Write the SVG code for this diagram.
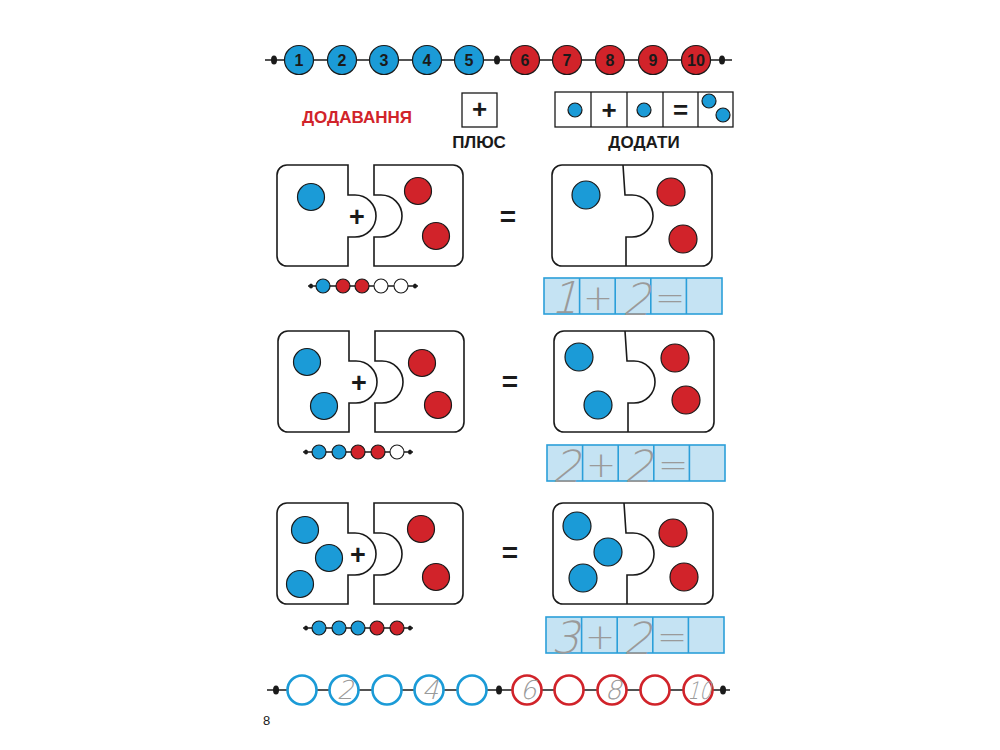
<svg xmlns="http://www.w3.org/2000/svg" xmlns:xlink="http://www.w3.org/1999/xlink" width="1000" height="750" viewBox="0 0 1000 750">
<style>
.ln{stroke:#1a1a1a;stroke-width:1.3;fill:none}
.dot{fill:#1a1a1a}
.nb{fill:#1b9bd7;stroke:#1a1a1a;stroke-width:1.2}
.nr{fill:#d1232a;stroke:#1a1a1a;stroke-width:1.2}
.num{font-family:"Liberation Sans",Arial,sans-serif;font-weight:bold;font-size:16px;fill:#1a1a1a;text-anchor:middle}
.ob{fill:#fff;stroke:#1b9bd7;stroke-width:2.6}
.or{fill:#fff;stroke:#d1232a;stroke-width:2.6}
.hw{font-family:"DejaVu Sans","Liberation Sans",sans-serif;font-weight:200;fill:#9a9a9a;text-anchor:middle}
.hp{font-family:"DejaVu Sans","Liberation Sans",sans-serif;font-weight:200;fill:#9a9a9a;text-anchor:middle}
.ttl{font-family:"Liberation Sans",Arial,sans-serif;font-weight:bold;font-size:17px;text-anchor:middle}
.piece{fill:#fff;stroke:#1a1a1a;stroke-width:1.6}
.bc{fill:#1b9bd7;stroke:#1a1a1a;stroke-width:1.2}
.rc{fill:#d1232a;stroke:#1a1a1a;stroke-width:1.2}
.wc{fill:#fff;stroke:#1a1a1a;stroke-width:1.1}
.box{fill:#fff;stroke:#1a1a1a;stroke-width:1.3}
.wb{fill:#c5e3f3;stroke:#2b9fd9;stroke-width:1.6}
.sym{font-family:"Liberation Sans",Arial,sans-serif;font-weight:bold;fill:#1a1a1a;text-anchor:middle}
</style>
<defs>
<path id="leftPiece" class="piece" d="M10,0 H71 V30 H78 A21,21 0 0 1 78,72 H71 V101 H10 A10,10 0 0 1 0,91 V10 A10,10 0 0 1 10,0 Z"/>
<path id="rightPiece" class="piece" d="M97,0 V30 H104 A21,21 0 0 1 104,72 H97 V101 H176 A10,10 0 0 0 186,91 V10 A10,10 0 0 0 176,0 Z"/>
<path id="resRect" class="piece" d="M10,0 H150 A10,10 0 0 1 160,10 V91 A10,10 0 0 1 150,101 H10 A10,10 0 0 1 0,91 V10 A10,10 0 0 1 10,0 Z"/>
<path id="resDiv" class="piece" d="M71,0 L73,30 H80 A21,21 0 0 1 80,72 H74 L74,101" fill="none"/>
<g id="beadLine">
<line class="ln" x1="0" y1="0" x2="110" y2="0"/>
<ellipse class="dot" cx="3" cy="0" rx="2" ry="2.6"/>
<ellipse class="dot" cx="107" cy="0" rx="2" ry="2.6"/>
</g>
<g id="writeBox">
<rect class="wb" x="0" y="0" width="178" height="36"/>
<line class="wb" x1="35.6" y1="0" x2="35.6" y2="36"/>
<line class="wb" x1="71.2" y1="0" x2="71.2" y2="36"/>
<line class="wb" x1="106.8" y1="0" x2="106.8" y2="36"/>
<line class="wb" x1="142.4" y1="0" x2="142.4" y2="36"/>
</g>
</defs>

<g id="connectors">
<line class="ln" x1="265" y1="60" x2="732" y2="60"/>
<line class="ln" x1="267" y1="690" x2="730" y2="690"/>
</g>

<g id="top-number-line">
<ellipse class="dot" cx="274" cy="60" rx="3" ry="4.5"/>
<ellipse class="dot" cx="497" cy="60" rx="3" ry="4.5"/>
<ellipse class="dot" cx="722" cy="60" rx="3" ry="4.5"/>
<circle class="nb" cx="299" cy="60" r="14.5"/><text class="num" x="299" y="66">1</text>
<circle class="nb" cx="342" cy="60" r="14.5"/><text class="num" x="342" y="66">2</text>
<circle class="nb" cx="384" cy="60" r="14.5"/><text class="num" x="384" y="66">3</text>
<circle class="nb" cx="427" cy="60" r="14.5"/><text class="num" x="427" y="66">4</text>
<circle class="nb" cx="469" cy="60" r="14.5"/><text class="num" x="469" y="66">5</text>
<circle class="nr" cx="525" cy="60" r="14.5"/><text class="num" x="525" y="66">6</text>
<circle class="nr" cx="567" cy="60" r="14.5"/><text class="num" x="567" y="66">7</text>
<circle class="nr" cx="610" cy="60" r="14.5"/><text class="num" x="610" y="66">8</text>
<circle class="nr" cx="653" cy="60" r="14.5"/><text class="num" x="653" y="66">9</text>
<circle class="nr" cx="696" cy="60" r="14.5"/><text class="num" x="696" y="66" textLength="18" lengthAdjust="spacingAndGlyphs">10</text>
</g>

<g id="header">
<text class="ttl" x="357" y="123" fill="#d1232a">ДОДАВАННЯ</text>
<rect class="box" x="462" y="93" width="35" height="34"/>
<text class="sym" x="479.5" y="118" font-size="26">+</text>
<text class="ttl" x="479" y="148" fill="#1a1a1a">ПЛЮС</text>
<rect class="box" x="555" y="92" width="178" height="35"/>
<line class="box" x1="591" y1="92" x2="591" y2="127"/>
<line class="box" x1="627" y1="92" x2="627" y2="127"/>
<line class="box" x1="663" y1="92" x2="663" y2="127"/>
<line class="box" x1="698" y1="92" x2="698" y2="127"/>
<circle class="bc" cx="575" cy="110" r="7"/>
<text class="sym" x="609" y="119" font-size="26">+</text>
<circle class="bc" cx="644" cy="110" r="7"/>
<text class="sym" x="680.5" y="119" font-size="26">=</text>
<circle class="bc" cx="709" cy="101" r="7"/>
<circle class="bc" cx="723" cy="115" r="7"/>
<text class="ttl" x="644" y="148" fill="#1a1a1a">ДОДАТИ</text>
</g>

<g id="puzzle-1">
<g transform="translate(277,165)">
<use xlink:href="#leftPiece"/>
<use xlink:href="#rightPiece"/>
<text class="sym" x="80" y="61" font-size="27">+</text>
</g>
<circle class="bc" cx="311" cy="197" r="13.5"/>
<circle class="rc" cx="418" cy="191" r="13.5"/>
<circle class="rc" cx="436" cy="236" r="13.5"/>
<g transform="translate(308,286)">
<use xlink:href="#beadLine"/>
</g>
<circle class="bc" cx="323" cy="286" r="7"/>
<circle class="rc" cx="343" cy="286" r="7"/>
<circle class="rc" cx="362" cy="286" r="7"/>
<circle class="wc" cx="381" cy="286" r="7"/>
<circle class="wc" cx="401" cy="286" r="7"/>
<text class="sym" x="508" y="226" font-size="28">=</text>
</g>
<g id="result-1">
<g transform="translate(552,165)">
<use xlink:href="#resRect"/>
<use xlink:href="#resDiv"/>
</g>
<circle class="bc" cx="586" cy="195" r="14"/>
<circle class="rc" cx="671" cy="192" r="14"/>
<circle class="rc" cx="683" cy="239" r="14"/>
</g>
<g id="write-1">
<g transform="translate(544,278)"><use xlink:href="#writeBox"/></g>
<text class="hw" transform="translate(564,313) skewX(-15)" font-size="44">1</text>
<text class="hp" x="598" y="310" font-size="36">+</text>
<text class="hw" transform="translate(636,315) skewX(-15)" font-size="44">2</text>
<text class="hp" x="670" y="310" font-size="36">=</text>
</g>

<g id="puzzle-2">
<g transform="translate(278,331)">
<use xlink:href="#leftPiece"/>
<use xlink:href="#rightPiece"/>
<text class="sym" x="81" y="61" font-size="27">+</text>
</g>
<circle class="bc" cx="307" cy="362" r="13.5"/>
<circle class="bc" cx="324" cy="406" r="13.5"/>
<circle class="rc" cx="422" cy="363" r="13.5"/>
<circle class="rc" cx="438" cy="405" r="13.5"/>
<g transform="translate(303,452)">
<use xlink:href="#beadLine"/>
</g>
<circle class="bc" cx="319" cy="452" r="7"/>
<circle class="bc" cx="339" cy="452" r="7"/>
<circle class="rc" cx="358" cy="452" r="7"/>
<circle class="rc" cx="378" cy="452" r="7"/>
<circle class="wc" cx="397" cy="452" r="7"/>
<text class="sym" x="510" y="391" font-size="28">=</text>
</g>
<g id="result-2">
<g transform="translate(554,331)">
<use xlink:href="#resRect"/>
<use xlink:href="#resDiv"/>
</g>
<circle class="bc" cx="579" cy="357" r="14"/>
<circle class="bc" cx="598" cy="405" r="14"/>
<circle class="rc" cx="675" cy="358" r="14"/>
<circle class="rc" cx="686" cy="400" r="14"/>
</g>
<g id="write-2">
<g transform="translate(547,445)"><use xlink:href="#writeBox"/></g>
<text class="hw" transform="translate(566,482) skewX(-15)" font-size="44">2</text>
<text class="hp" x="601" y="477" font-size="36">+</text>
<text class="hw" transform="translate(638,482) skewX(-15)" font-size="44">2</text>
<text class="hp" x="673" y="477" font-size="36">=</text>
</g>

<g id="puzzle-3">
<g transform="translate(277,503)">
<use xlink:href="#leftPiece"/>
<use xlink:href="#rightPiece"/>
<text class="sym" x="81" y="61" font-size="27">+</text>
</g>
<circle class="bc" cx="305" cy="530" r="13.5"/>
<circle class="bc" cx="329" cy="558" r="13.5"/>
<circle class="bc" cx="300" cy="584" r="13.5"/>
<circle class="rc" cx="421" cy="529" r="13.5"/>
<circle class="rc" cx="436" cy="577" r="13.5"/>
<g transform="translate(303,628)">
<use xlink:href="#beadLine"/>
</g>
<circle class="bc" cx="319" cy="628" r="7"/>
<circle class="bc" cx="339" cy="628" r="7"/>
<circle class="bc" cx="358" cy="628" r="7"/>
<circle class="rc" cx="377" cy="628" r="7"/>
<circle class="rc" cx="397" cy="628" r="7"/>
<text class="sym" x="510" y="562" font-size="28">=</text>
</g>
<g id="result-3">
<g transform="translate(553,503)">
<use xlink:href="#resRect"/>
<use xlink:href="#resDiv"/>
</g>
<circle class="bc" cx="577" cy="526" r="14"/>
<circle class="bc" cx="608" cy="552" r="14"/>
<circle class="bc" cx="583" cy="578" r="14"/>
<circle class="rc" cx="673" cy="533" r="14"/>
<circle class="rc" cx="684" cy="577" r="14"/>
</g>
<g id="write-3">
<g transform="translate(546,617)"><use xlink:href="#writeBox"/></g>
<text class="hw" transform="translate(565,653) skewX(-15)" font-size="44">3</text>
<text class="hp" x="600" y="649" font-size="36">+</text>
<text class="hw" transform="translate(637,654) skewX(-15)" font-size="44">2</text>
<text class="hp" x="672" y="649" font-size="36">=</text>
</g>

<g id="bottom-number-line">
<ellipse class="dot" cx="276" cy="690" rx="3" ry="4.5"/>
<ellipse class="dot" cx="499" cy="690" rx="3" ry="4.5"/>
<ellipse class="dot" cx="723" cy="690" rx="3" ry="4.5"/>
<circle class="ob" cx="302" cy="690" r="14.5"/>
<circle class="ob" cx="344" cy="690" r="14.5"/>
<circle class="ob" cx="387" cy="690" r="14.5"/>
<circle class="ob" cx="429" cy="690" r="14.5"/>
<circle class="ob" cx="472" cy="690" r="14.5"/>
<circle class="or" cx="527" cy="690" r="14.5"/>
<circle class="or" cx="569" cy="690" r="14.5"/>
<circle class="or" cx="612" cy="690" r="14.5"/>
<circle class="or" cx="655" cy="690" r="14.5"/>
<circle class="or" cx="698" cy="690" r="14.5"/>
<text class="hw" transform="translate(345,699) skewX(-15)" font-size="26">2</text>
<text class="hw" transform="translate(430,699) skewX(-15)" font-size="26">4</text>
<text class="hw" transform="translate(528,699) skewX(-15)" font-size="26">6</text>
<text class="hw" transform="translate(613,699) skewX(-15)" font-size="26">8</text>
<text class="hw" transform="translate(699,699) skewX(-15)" font-size="24" textLength="24" lengthAdjust="spacingAndGlyphs">10</text>
</g>

<text x="263" y="725" font-family="Liberation Sans, Arial, sans-serif" font-size="13" fill="#1a1a1a">8</text>
</svg>
